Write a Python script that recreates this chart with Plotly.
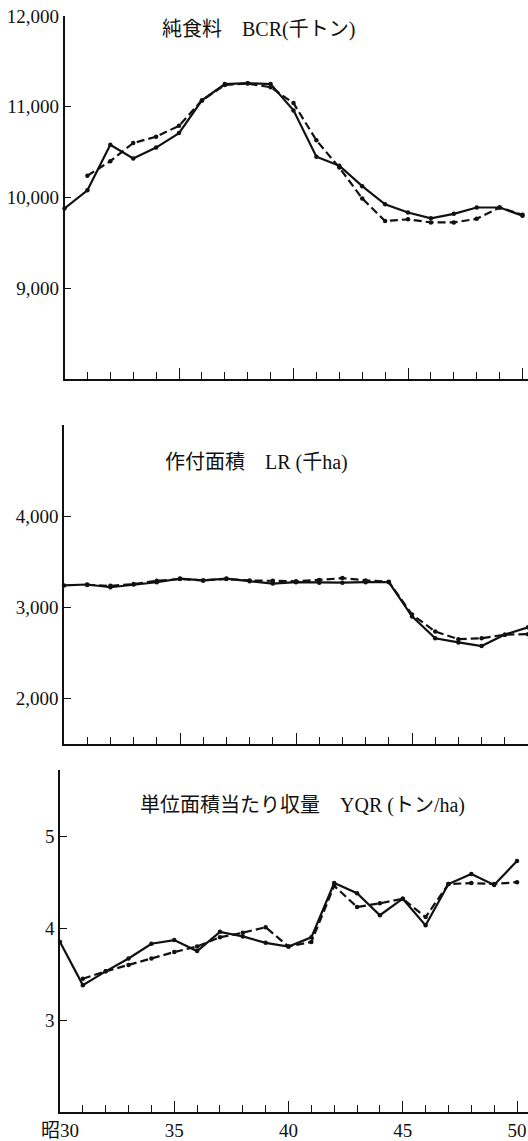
import plotly.graph_objects as go

# 年次（昭和）
years = list(range(30, 51))
years_trend = list(range(31, 51))

# 純食料 BCR（千トン）：実績と推計
bcr_actual = [9880, 10080, 10580, 10430, 10550, 10710, 11070, 11250, 11260, 11250,
              10960, 10450, 10350, 10125, 9925, 9835, 9770, 9820, 9890, 9890, 9800]
bcr_trend = [10240, 10400, 10600, 10670, 10790, 11070, 11240, 11255, 11215,
             11040, 10630, 10330, 9990, 9740, 9760, 9725, 9725, 9765, 9890, 9810]

# 作付面積 LR（千ha）
lr_actual = [3240, 3250, 3220, 3250, 3275, 3315, 3295, 3315, 3285, 3260,
             3275, 3270, 3270, 3275, 3275, 2900, 2660, 2615, 2575, 2700, 2780]
lr_trend = [3245, 3235, 3255, 3290, 3310, 3295, 3310, 3295, 3290,
            3285, 3300, 3320, 3295, 3280, 2920, 2735, 2650, 2660, 2700, 2705]

# 単位面積当たり収量 YQR（トン/ha）
yqr_actual = [3.85, 3.38, 3.53, 3.67, 3.83, 3.87, 3.75, 3.96, 3.91, 3.84,
              3.80, 3.90, 4.49, 4.38, 4.14, 4.32, 4.03, 4.48, 4.59, 4.47, 4.73]
yqr_trend = [3.45, 3.53, 3.60, 3.67, 3.74, 3.80, 3.90, 3.95, 4.01,
             3.80, 3.85, 4.46, 4.23, 4.27, 4.32, 4.12, 4.48, 4.49, 4.48, 4.50]

titles = ["純食料　BCR(千トン)", "作付面積　LR (千ha)", "単位面積当たり収量　YQR (トン/ha)"]
bottom_ticks = [30, 35, 40, 45, 50]
bottom_text = ["昭30", "35", "40", "45", "50"]

W, H = 528, 1141
INK = "#111111"
SERIF = "Liberation Serif, 'Noto Sans CJK JP', serif"
TITLE_FONT = "'Liberation Serif', 'Noto Sans CJK JP', serif"

fig = go.Figure()

panels = [
    (bcr_actual, bcr_trend, "x", "y"),
    (lr_actual, lr_trend, "x2", "y2"),
    (yqr_actual, yqr_trend, "x3", "y3"),
]
for act, trd, xa, ya in panels:
    fig.add_trace(go.Scatter(
        x=years, y=act, xaxis=xa, yaxis=ya, mode="lines+markers",
        line=dict(color=INK, width=2.2), marker=dict(color=INK, size=4.5),
        showlegend=False, cliponaxis=False))
    fig.add_trace(go.Scatter(
        x=years_trend, y=trd, xaxis=xa, yaxis=ya, mode="lines+markers",
        line=dict(color=INK, width=2.2, dash="8px,4px"),
        marker=dict(color=INK, size=4.5),
        showlegend=False, cliponaxis=False))


def xaxis_cfg(left_px, px_per_year, labels, anchor):
    right = 30 + (W - left_px) / px_per_year
    cfg = dict(
        domain=[left_px / W, 1], range=[30, right], anchor=anchor, automargin=False,
        showline=True, linecolor=INK, linewidth=1.6, showgrid=False, zeroline=False,
        ticks="inside", tickmode="array", tickvals=bottom_ticks,
        ticklen=11, tickwidth=1.2, tickcolor=INK,
        minor=dict(ticks="inside", dtick=1, tick0=30, ticklen=7,
                   tickwidth=1.1, tickcolor=INK, showgrid=False),
        showticklabels=labels, fixedrange=True,
    )
    if labels:
        cfg.update(ticktext=bottom_text, ticklabeloverflow="allow",
                   tickfont=dict(family=SERIF, size=19, color=INK))
    return cfg


def yaxis_cfg(top_px, bottom_px, rng, vals, text, anchor):
    return dict(
        domain=[1 - bottom_px / H, 1 - top_px / H], range=rng, anchor=anchor,
        automargin=False,
        showline=True, linecolor=INK, linewidth=1.6, showgrid=False, zeroline=False,
        ticks="inside", ticklen=7, tickwidth=1.2, tickcolor=INK,
        tickmode="array", tickvals=vals, ticktext=text,
        tickfont=dict(family=SERIF, size=19, color=INK), fixedrange=True,
    )


fig.update_layout(
    template="none",
    width=W, height=H,
    margin=dict(l=0, r=0, t=0, b=0, autoexpand=False),
    paper_bgcolor="white", plot_bgcolor="white",
    xaxis=xaxis_cfg(64.5, 22.9, False, "y"),
    xaxis2=xaxis_cfg(64.0, 23.2, False, "y2"),
    xaxis3=xaxis_cfg(60.0, 22.85, True, "y3"),
    yaxis=yaxis_cfg(16, 379, [8000, 12000],
                    [9000, 10000, 11000, 12000],
                    ["9,000", "10,000", "11,000", "12,000"], "x"),
    yaxis2=yaxis_cfg(425, 744, [1500, 5000],
                     [2000, 3000, 4000, 5000],
                     ["2,000", "3,000", "4,000", ""], "x2"),
    yaxis3=yaxis_cfg(770, 1112, [2.0, 5.72],
                     [3, 4, 5], ["3", "4", "5"], "x3"),
)

title_pos = [(258, 30), (256, 462), (302, 805)]
for t, (cx, cy) in zip(titles, title_pos):
    fig.add_annotation(
        text=t, xref="paper", yref="paper", x=cx / W, y=1 - cy / H,
        xanchor="center", yanchor="middle", showarrow=False,
        font=dict(family=TITLE_FONT, size=20, color=INK))

fig.write_html("out.html")
